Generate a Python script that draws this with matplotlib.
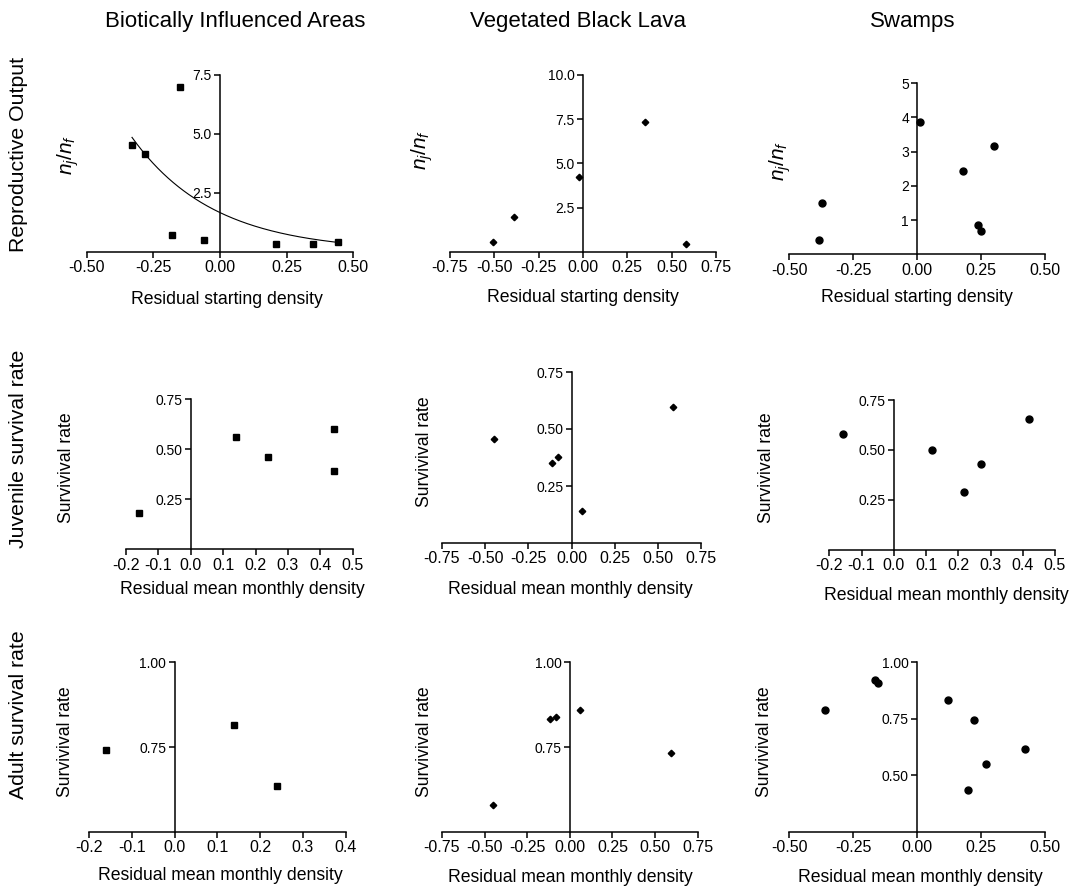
import numpy as np
import matplotlib
matplotlib.use("Agg")
import matplotlib.pyplot as plt

plt.rcParams['font.family'] = ['Liberation Sans', 'DejaVu Sans']
plt.rcParams['mathtext.fontset'] = 'custom'
plt.rcParams['mathtext.rm'] = 'Liberation Sans'
plt.rcParams['mathtext.it'] = 'Liberation Sans:italic'

W, H = 1071, 889

col_titles = ["Biotically Influenced Areas", "Vegetated Black Lava", "Swamps"]
row_titles = ["Reproductive Output", "Juvenile survival rate", "Adult survival rate"]

# Row 1: reproductive output (n_j/n_f) vs residual starting density
bio_rep_x = [-0.331, -0.281, -0.150, -0.180, -0.060, 0.210, 0.350, 0.441]
bio_rep_y = [4.53, 4.15, 7.00, 0.71, 0.50, 0.34, 0.34, 0.42]
lava_rep_x = [-0.507, -0.389, -0.021, 0.351, 0.579]
lava_rep_y = [0.58, 1.95, 4.25, 7.35, 0.47]
swamp_rep_x = [0.009, 0.300, 0.180, -0.374, -0.383, 0.238, 0.250]
swamp_rep_y = [3.88, 3.18, 2.45, 1.50, 0.41, 0.87, 0.69]

# fitted exponential curve (biotic areas): y = a * exp(b * x)
fit_a, fit_b = 1.66, -3.25
fit_range = [-0.33, 0.44]

# Row 2: juvenile survival vs residual mean monthly density
bio_juv_x = [-0.159, 0.141, 0.240, 0.441, 0.441]
bio_juv_y = [0.180, 0.562, 0.459, 0.602, 0.392]
lava_juv_x = [-0.448, -0.112, -0.081, 0.060, 0.587]
lava_juv_y = [0.458, 0.351, 0.377, 0.140, 0.598]
swamp_juv_x = [-0.159, 0.120, 0.270, 0.219, 0.420]
swamp_juv_y = [0.578, 0.501, 0.429, 0.290, 0.655]

# Row 3: adult survival vs residual mean monthly density
bio_ad_x = [-0.160, 0.139, 0.240]
bio_ad_y = [0.741, 0.816, 0.635]
lava_ad_x = [-0.452, -0.114, -0.080, 0.061, 0.593]
lava_ad_y = [0.581, 0.833, 0.840, 0.860, 0.732]
swamp_ad_x = [-0.360, -0.163, -0.152, 0.120, 0.220, 0.419, 0.268, 0.199]
swamp_ad_y = [0.790, 0.920, 0.909, 0.834, 0.744, 0.615, 0.549, 0.435]

xt_res = [-0.50, -0.25, 0.00, 0.25, 0.50]
xt_wide = [-0.75, -0.50, -0.25, 0.00, 0.25, 0.50, 0.75]
xt_a = [-0.2, -0.1, 0.0, 0.1, 0.2, 0.3, 0.4, 0.5]
xt_b = [-0.2, -0.1, 0.0, 0.1, 0.2, 0.3, 0.4]

NJNF = r'$n_j/n_f$'
SURV = 'Survivival rate'
XRS = 'Residual starting density'
XRM = 'Residual mean monthly density'

panels = [
    dict(x=bio_rep_x, y=bio_rep_y, m='s', ms=5, xt=xt_res, xf='{:.2f}', yl=(0, 7.5), yt=[2.5, 5.0, 7.5], yf='{:.1f}',
         ylab=NJNF, xlab=XRS, box=(86.7, 353.3, 75, 251.7), ylp=(81, 155), xlp=(227, 299)),
    dict(x=lava_rep_x, y=lava_rep_y, m='D', ms=3.3, xt=xt_wide, xf='{:.2f}', yl=(0, 10), yt=[2.5, 5.0, 7.5, 10.0], yf='{:.1f}',
         ylab=NJNF, xlab=XRS, box=(450, 716, 75, 252), ylp=(435, 150), xlp=(583, 297)),
    dict(x=swamp_rep_x, y=swamp_rep_y, m='o', ms=5, xt=xt_res, xf='{:.2f}', yl=(0, 5), yt=[1, 2, 3, 4, 5], yf='{:.0f}',
         ylab=NJNF, xlab=XRS, box=(789.3, 1045.3, 83.3, 254.3), ylp=(793, 161), xlp=(917, 297)),
    dict(x=bio_juv_x, y=bio_juv_y, m='s', ms=5, xt=xt_a, xf='{:.1f}', yl=(0, 0.75), yt=[0.25, 0.50, 0.75], yf='{:.2f}',
         ylab=SURV, xlab=XRM, box=(126, 352.7, 399, 549.3), ylp=(75, 468), xlp=(242, 589)),
    dict(x=lava_juv_x, y=lava_juv_y, m='D', ms=3.3, xt=xt_wide, xf='{:.2f}', yl=(0, 0.75), yt=[0.25, 0.50, 0.75], yf='{:.2f}',
         ylab=SURV, xlab=XRM, box=(442, 701, 372, 543), ylp=(433, 452), xlp=(570, 590)),
    dict(x=swamp_juv_x, y=swamp_juv_y, m='o', ms=5, xt=xt_a, xf='{:.1f}', yl=(0, 0.75), yt=[0.25, 0.50, 0.75], yf='{:.2f}',
         ylab=SURV, xlab=XRM, box=(829.3, 1055, 400, 549.7), ylp=(775, 468), xlp=(946, 595)),
    dict(x=bio_ad_x, y=bio_ad_y, m='s', ms=5, xt=xt_b, xf='{:.1f}', yl=(0.5, 1.0), yt=[0.75, 1.00], yf='{:.2f}',
         ylab=SURV, xlab=XRM, box=(89, 345.7, 662.3, 832), ylp=(74, 742), xlp=(220, 876)),
    dict(x=lava_ad_x, y=lava_ad_y, m='D', ms=3.3, xt=xt_wide, xf='{:.2f}', yl=(0.5, 1.0), yt=[0.75, 1.00], yf='{:.2f}',
         ylab=SURV, xlab=XRM, box=(442, 697.7, 662.3, 832), ylp=(433, 742), xlp=(570, 878)),
    dict(x=swamp_ad_x, y=swamp_ad_y, m='o', ms=5, xt=xt_res, xf='{:.2f}', yl=(0.25, 1.0), yt=[0.50, 0.75, 1.00], yf='{:.2f}',
         ylab=SURV, xlab=XRM, box=(789, 1045.3, 662.3, 832), ylp=(773, 742), xlp=(920, 878)),
]

fig = plt.figure(figsize=(W / 100, H / 100), dpi=100)

tick_fs = 11.5
lab_fs = 12.7

for i, p in enumerate(panels):
    x0, x1, yt_, yb = p['box']
    ax = fig.add_axes([x0 / W, 1 - yb / H, (x1 - x0) / W, (yb - yt_) / H])
    ax.plot(p['x'], p['y'], linestyle='none', marker=p['m'], ms=p['ms'], color='black', clip_on=False)
    if i == 0:
        xs = np.linspace(fit_range[0], fit_range[1], 200)
        ax.plot(xs, fit_a * np.exp(fit_b * xs), color='black', lw=0.8)
    ax.set_xlim(p['xt'][0], p['xt'][-1])
    ax.set_ylim(*p['yl'])
    ax.set_xticks(p['xt'])
    ax.set_xticklabels([p['xf'].format(v) for v in p['xt']], fontsize=tick_fs)
    ax.set_yticks(p['yt'])
    ax.set_yticklabels([p['yf'].format(v) for v in p['yt']], fontsize=tick_fs)
    ax.spines['top'].set_visible(False)
    ax.spines['right'].set_visible(False)
    ax.spines['left'].set_position(('data', 0))
    for s in ('left', 'bottom'):
        ax.spines[s].set_linewidth(1.1)
    ax.tick_params(direction='out', length=4, width=1.1, pad=2)
    ax.set_facecolor('none')
    ax.set_ylabel(p['ylab'], fontsize=(15 if p['ylab'] == NJNF else lab_fs))
    ax.yaxis.set_label_coords(p['ylp'][0] / W, 1 - p['ylp'][1] / H, transform=fig.transFigure)
    fig.text(p['xlp'][0] / W, 1 - p['xlp'][1] / H, p['xlab'], fontsize=lab_fs, ha='center', va='center')

col_x = [235, 578, 913]
for t, cx in zip(col_titles, col_x):
    fig.text(cx / W, 1 - 21 / H, t, fontsize=16, ha='center', va='center')

row_y = [154, 449, 715]
for t, cy in zip(row_titles, row_y):
    fig.text(19 / W, 1 - cy / H, t, fontsize=15.3, ha='center', va='center', rotation=90)

fig.savefig('out.png', dpi=100)
